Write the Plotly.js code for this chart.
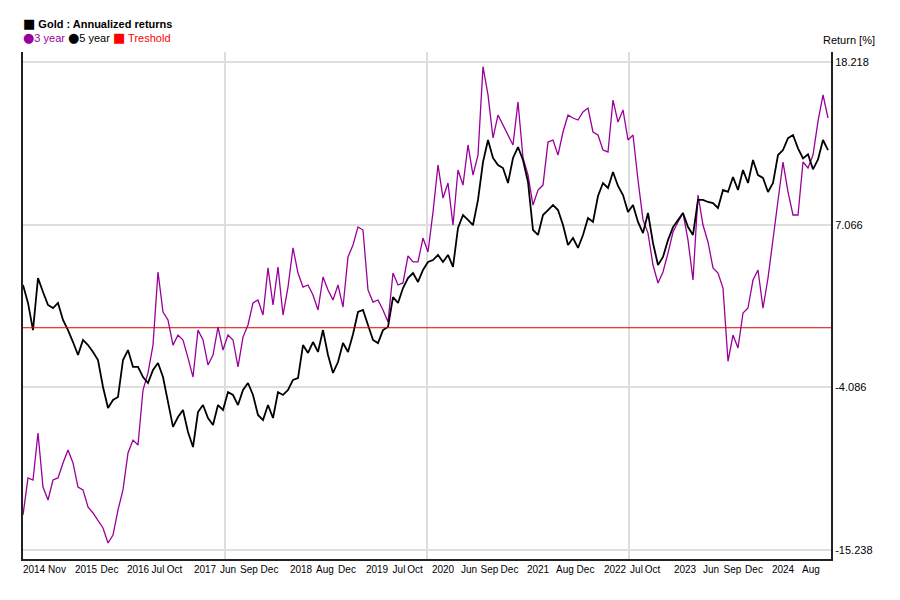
<!DOCTYPE html>
<html>
<head>
<meta charset="utf-8">
<script src="https://cdn.plot.ly/plotly-3.0.1.min.js"></script>
<style>
  html, body { margin: 0; padding: 0; background: #fff; }
  #chart { width: 900px; height: 600px; }
</style>
</head>
<body>
<div id="chart"></div>
<script>
'use strict';

//Gold annualized returns, one value per sampled session (in-order)
//3 year rolling return [%]
var return3y = [
    -12.84, -10.30, -10.44, -7.22, -10.92, -11.81, -10.44, -10.30, -9.27, -8.38,
    -9.27, -10.92, -11.12, -12.29, -12.70, -13.18, -13.73, -14.76, -14.21, -12.49,
    -11.12, -8.59, -7.70, -8.04, -4.27, -3.10, -1.19, 3.82, 1.08, 0.53,
    -1.19, -0.50, -0.84, -2.07, -3.38, -0.16, -0.84, -2.55, -1.87, 0.05,
    -1.53, -0.50, -0.84, -2.69, -0.64, 0.19, 1.70, 1.90, 0.87, 4.10,
    1.56, 4.16, 0.87, 2.79, 5.47, 3.75, 2.79, 2.93, 2.24, 1.22,
    3.48, 2.59, 1.90, 2.93, 1.42, 4.85, 5.67, 6.91, 6.70, 2.59,
    1.76, 1.90, 1.22, 0.39, 3.75, 2.93, 3.07, 4.92, 4.51, 4.51,
    6.15, 5.19, 7.93, 11.16, 8.89, 9.92, 7.04, 10.81, 9.78, 12.53,
    10.47, 11.84, 17.90, 15.96, 13.01, 14.58, 13.90, 13.21, 12.53, 15.48,
    11.64, 10.47, 8.41, 9.44, 9.78, 12.73, 12.87, 11.84, 13.42, 14.58,
    14.38, 14.24, 14.79, 15.06, 13.42, 13.21, 12.18, 12.05, 15.61, 14.10,
    14.93, 12.87, 13.21, 10.13, 7.39, 6.49, 4.30, 3.07, 3.82, 5.12,
    6.56, 7.25, 7.87, 6.01, 3.27, 9.10, 7.04, 5.88, 4.10, 3.75,
    2.72, -2.30, -0.50, -1.39, 1.01, 1.35, 3.27, 3.96, 1.35, 3.41,
    6.01, 8.76, 11.36, 9.31, 7.73, 7.73, 11.36, 10.95, 11.84, 14.15,
    15.96, 14.38
]

//5 year rolling return [%]
var return5y = [
    2.93, 1.70, -0.16, 3.41, 2.45, 1.56, 1.35, 1.70, 0.53, -0.16,
    -0.98, -1.87, -0.84, -1.19, -1.66, -2.21, -4.06, -5.50, -4.95, -4.75,
    -2.21, -1.53, -2.69, -2.69, -3.38, -3.79, -2.90, -2.42, -3.38, -5.16,
    -6.80, -6.12, -5.64, -7.15, -8.18, -5.78, -5.30, -6.19, -6.67, -5.30,
    -5.64, -4.41, -4.61, -5.30, -4.27, -3.79, -4.61, -5.98, -6.33, -5.30,
    -6.19, -4.41, -4.61, -4.27, -3.58, -3.45, -1.19, -1.73, -0.98, -1.66,
    -0.16, -1.87, -3.10, -2.35, -1.05, -1.66, -0.45, 1.08, 1.22, 0.19,
    -0.84, -1.05, -0.16, 0.05, 2.10, 1.70, 2.72, 3.41, 3.75, 3.14,
    3.96, 4.51, 4.64, 4.99, 4.51, 4.99, 4.17, 6.84, 7.73, 7.39,
    7.04, 8.76, 11.36, 12.87, 11.64, 11.16, 10.95, 9.92, 11.64, 12.39,
    11.50, 9.99, 6.70, 6.36, 7.73, 8.07, 8.41, 8.07, 7.04, 5.67,
    6.15, 5.47, 6.36, 7.52, 7.25, 9.03, 9.92, 9.58, 10.68, 9.72,
    9.10, 7.93, 8.41, 7.25, 6.49, 7.87, 5.81, 4.30, 4.85, 6.01,
    6.90, 7.39, 7.87, 6.90, 6.36, 8.76, 8.76, 8.62, 8.55, 8.21,
    9.44, 9.31, 10.33, 9.44, 10.81, 9.92, 11.50, 10.47, 10.27, 9.31,
    9.92, 11.84, 12.18, 13.00, 13.21, 12.30, 11.61, 11.89, 10.86, 11.54,
    12.87, 12.18
]

//threshold level [%]
var threshold = 0

//x axis labels and the session they sit under
var xTickText = ['2014', 'Nov', '2015', 'Dec', '2016', 'Jul', 'Oct', '2017', 'Jun', 'Sep', 'Dec',
    '2018', 'Aug', 'Dec', '2019', 'Jul', 'Oct', '2020', 'Jun', 'Sep', 'Dec', '2021', 'Aug', 'Dec',
    '2022', 'Jul', 'Oct', '2023', 'Jun', 'Sep', 'Dec', '2024', 'Aug']
var xTickPos = [2.2, 6.8, 12.6, 17.3, 23.0, 27.0, 30.3, 36.4, 41.0, 45.2, 49.3,
    55.6, 60.4, 64.8, 70.8, 75.2, 78.4, 84.0, 89.2, 93.3, 97.3, 103.0, 108.4, 112.5,
    118.4, 122.7, 125.9, 132.4, 137.6, 141.9, 146.2, 152.0, 157.6]

//right axis labels
var yTickVals = [-15.238, -4.086, 7.066, 18.218]
var yTickText = ['-15.238', '-4.086', '7.066', '18.218']

var sessions = return3y.map(function (v, i) { return i; });
var lastSession = sessions.length - 1;

var font = '"Liberation Sans", Arial, sans-serif';

var trace3y = {
    x: sessions,
    y: return3y,
    type: 'scatter',
    mode: 'lines',
    name: '3 year',
    line: {color: '#990099', width: 1.3}
};

var trace5y = {
    x: sessions,
    y: return5y,
    type: 'scatter',
    mode: 'lines',
    name: '5 year',
    line: {color: '#000000', width: 1.8}
};

var traceThr = {
    x: [0, lastSession + 0.6],
    y: [threshold, threshold],
    type: 'scatter',
    mode: 'lines',
    name: 'Treshold',
    line: {color: '#e00000', width: 1}
};

//bigger legend glyphs, like the original key
function sym(ch) {
    return '<span style="font-family:\'DejaVu Sans\';font-size:13px">' + ch + '</span>';
}

var keyLine1 = sym('■') + '<b> Gold : Annualized returns</b>';
var keyLine2 = '<span style="color:#990099">' + sym('●') + '3 year</span> ' + sym('●') +
    '5 year <span style="color:#ff0000">' + sym('■') + ' Treshold</span>';

var layout = {
    width: 900,
    height: 600,
    margin: {l: 23, r: 69, t: 52, b: 41},
    paper_bgcolor: '#ffffff',
    plot_bgcolor: '#ffffff',
    showlegend: false,
    hovermode: false,
    font: {family: font, size: 11, color: '#000000'},
    xaxis: {
        range: [0, lastSession + 0.6],
        tickvals: xTickPos,
        ticktext: xTickText,
        tickangle: 0,
        ticks: '',
        showgrid: false,
        zeroline: false,
        showline: true,
        linewidth: 2,
        linecolor: '#222222',
        tickfont: {family: font, size: 10, color: '#000000'}
    },
    yaxis: {
        side: 'right',
        range: [-15.855, 18.904],
        tickvals: yTickVals,
        ticktext: yTickText,
        ticks: '',
        showgrid: true,
        gridcolor: '#dedede',
        gridwidth: 2,
        zeroline: false,
        showline: true,
        mirror: true,
        linewidth: 2,
        linecolor: '#222222',
        tickfont: {family: font, size: 11, color: '#000000'}
    },
    //vertical grid at the quarters of the time span
    shapes: [0.25, 0.5, 0.75].map(function (f) {
        return {type: 'line', xref: 'paper', yref: 'paper', x0: f, x1: f, y0: 0, y1: 1,
            layer: 'below', line: {color: '#dedede', width: 2}};
    }),
    annotations: [
        {
            xref: 'paper', yref: 'paper', x: -0.002, y: 1.043, xanchor: 'left', yanchor: 'middle',
            showarrow: false, align: 'left',
            text: keyLine1 + '<br>' + keyLine2,
            font: {family: font, size: 11, color: '#000000'}
        },
        {
            xref: 'paper', yref: 'paper', x: 0.9876, y: 1.024, xanchor: 'left', yanchor: 'middle',
            showarrow: false, text: 'Return [%]',
            font: {family: font, size: 11, color: '#000000'}
        }
    ]
};

Plotly.newPlot('chart', [trace3y, trace5y, traceThr], layout, {displayModeBar: false, staticPlot: true});
</script>
</body>
</html>
